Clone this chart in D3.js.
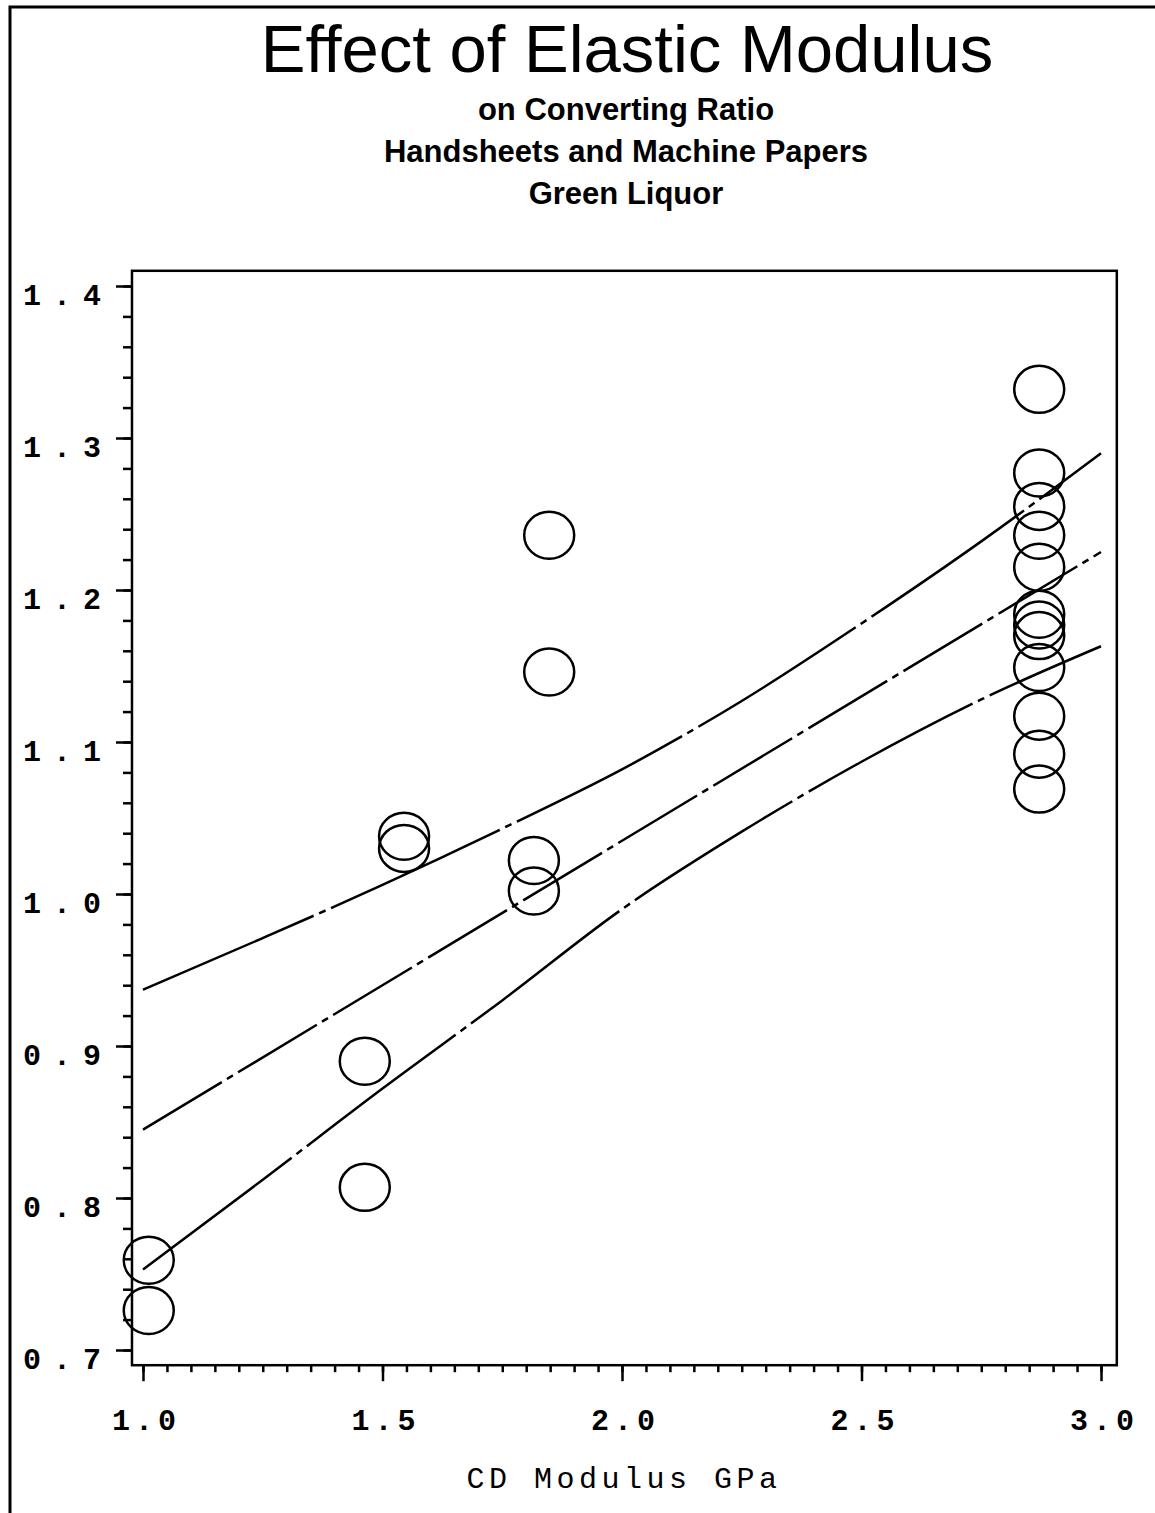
<!DOCTYPE html>
<html>
<head>
<meta charset="utf-8">
<script src="https://cdn.jsdelivr.net/npm/d3@7"></script>
<style>
  body { margin: 0; background: #fff; }
  .title { font-family: "Liberation Sans", Arial, sans-serif; fill: #000; }
  .mono { font-family: "Liberation Mono", "Courier New", monospace; fill: #000; }
</style>
</head>
<body>
<svg id="chart" width="1155" height="1513"></svg>
<script>
// scatter points: CD modulus (GPa) vs converting ratio
var modulus = [1.012, 1.012, 1.463, 1.463, 1.545, 1.545, 1.816, 1.816, 1.848, 1.848,
               2.871, 2.871, 2.871, 2.871, 2.871, 2.871, 2.871, 2.871, 2.871, 2.871, 2.871, 2.871];
var ratio   = [0.759, 0.726, 0.890, 0.807, 1.038, 1.030, 1.022, 1.002, 1.236, 1.146,
               1.332, 1.277, 1.255, 1.236, 1.215, 1.184, 1.177, 1.170, 1.149, 1.117, 1.092, 1.069];

// fitted line and confidence band
var fitX   = [1.0, 3.0];
var fitY   = [0.845, 1.225];
var bandX  = [1.0, 1.25, 1.5, 1.75, 2.0, 2.25, 2.5, 2.75, 3.0];
var upperY = [0.937, 0.971, 1.006, 1.043, 1.082, 1.127, 1.178, 1.232, 1.290];
var lowerY = [0.753, 0.812, 0.872, 0.930, 0.990, 1.041, 1.087, 1.128, 1.163];

var xMajor = [1.0, 1.5, 2.0, 2.5, 3.0];
var yMajor = [0.7, 0.8, 0.9, 1.0, 1.1, 1.2, 1.3, 1.4];

var titleText = "Effect of Elastic Modulus";
var subTitles = ["on Converting Ratio", "Handsheets and Machine Papers", "Green Liquor"];
var xTitle = "CD Modulus GPa";

var svg = d3.select('#chart');

var x = d3.scaleLinear().domain([1.0, 3.0]).range([143, 1101]);
var y = d3.scaleLinear().domain([0.7, 1.4]).range([1350, 286]);

var plotLeft   = x(0.977), plotRight  = x(3.033);
var plotTop    = y(1.41),  plotBottom = y(0.69);

// page border (left and top edges of the scanned sheet)
svg.append('path')
  .attr('d', 'M10,1513 L10,7 L1155,7')
  .attr('fill', 'none')
  .attr('stroke', '#000')
  .attr('stroke-width', 3);

// titles
svg.append('text')
  .attr('class', 'title')
  .attr('x', 627).attr('y', 72)
  .attr('text-anchor', 'middle')
  .style('font-size', '67px')
  .text(titleText);

svg.selectAll('.sub')
  .data(subTitles)
  .enter()
  .append('text')
  .attr('class', 'title sub')
  .attr('x', 626)
  .attr('y', function(d, i) { return 120 + i * 42; })
  .attr('text-anchor', 'middle')
  .style('font-size', '31px')
  .style('font-weight', 'bold')
  .text(function(d) { return d; });

// frame
svg.append('rect')
  .attr('x', plotLeft).attr('y', plotTop)
  .attr('width', plotRight - plotLeft).attr('height', plotBottom - plotTop)
  .attr('fill', 'none')
  .attr('stroke', '#000')
  .attr('stroke-width', 2.5);

// axes: minor ticks first, then majors with labels
var fmt = d3.format('.1f');

var yMinor = d3.range(0, 36).map(function(i) { return +(0.7 + i * 0.02).toFixed(2); });
var xMinor = d3.range(0, 41).map(function(i) { return +(1.0 + i * 0.05).toFixed(2); });

var yAxisMinor = svg.append('g')
  .attr('transform', 'translate(' + plotLeft + ',0)')
  .call(d3.axisLeft(y).tickValues(yMinor).tickSize(9).tickFormat(''));
var yAxisMajor = svg.append('g')
  .attr('transform', 'translate(' + plotLeft + ',0)')
  .call(d3.axisLeft(y).tickValues(yMajor).tickSize(16).tickPadding(3).tickFormat(fmt));

var xAxisMinor = svg.append('g')
  .attr('transform', 'translate(0,' + plotBottom + ')')
  .call(d3.axisBottom(x).tickValues(xMinor).tickSize(7).tickFormat(''));
var xAxisMajor = svg.append('g')
  .attr('transform', 'translate(0,' + plotBottom + ')')
  .call(d3.axisBottom(x).tickValues(xMajor).tickSize(16).tickPadding(28).tickFormat(fmt));

[yAxisMinor, yAxisMajor, xAxisMinor, xAxisMajor].forEach(function(g) {
  g.select('.domain').remove();
  g.selectAll('line').attr('stroke', '#000').attr('stroke-width', 2.5);
});

[yAxisMajor, xAxisMajor].forEach(function(g) {
  g.selectAll('text')
    .attr('class', 'mono')
    .attr('fill', '#000')
    .style('font-size', '30px')
    .style('font-weight', 'bold');
});
yAxisMajor.selectAll('text')
  .attr('dy', '0.62em')
  .style('letter-spacing', '12px');
xAxisMajor.selectAll('text')
  .attr('dx', '3px')
  .style('letter-spacing', '5px');

svg.append('text')
  .attr('class', 'mono')
  .attr('x', 624).attr('y', 1488)
  .attr('text-anchor', 'middle')
  .style('font-size', '30px')
  .style('letter-spacing', '4.5px')
  .text(xTitle);

// regression line and confidence band
var line = d3.line()
  .x(function(d) { return x(d[0]); })
  .y(function(d) { return y(d[1]); })
  .curve(d3.curveMonotoneX);

var series = [
  { pts: d3.zip(bandX, upperY), dash: '186,6,7,6' },
  { pts: d3.zip(fitX, fitY),    dash: '92,6,7,6' },
  { pts: d3.zip(bandX, lowerY), dash: '186,6,7,6' }
];

svg.selectAll('.fit')
  .data(series)
  .enter()
  .append('path')
  .attr('class', 'fit')
  .attr('d', function(d) { return line(d.pts); })
  .attr('fill', 'none')
  .attr('stroke', '#000')
  .attr('stroke-width', 2.5)
  .attr('stroke-dasharray', function(d) { return d.dash; });

// points as open circles
svg.selectAll('.pt')
  .data(d3.zip(modulus, ratio))
  .enter()
  .append('ellipse')
  .attr('class', 'pt')
  .attr('cx', function(d) { return x(d[0]); })
  .attr('cy', function(d) { return y(d[1]); })
  .attr('rx', 25)
  .attr('ry', 23.5)
  .attr('fill', 'none')
  .attr('stroke', '#000')
  .attr('stroke-width', 2.5);
</script>
</body>
</html>
